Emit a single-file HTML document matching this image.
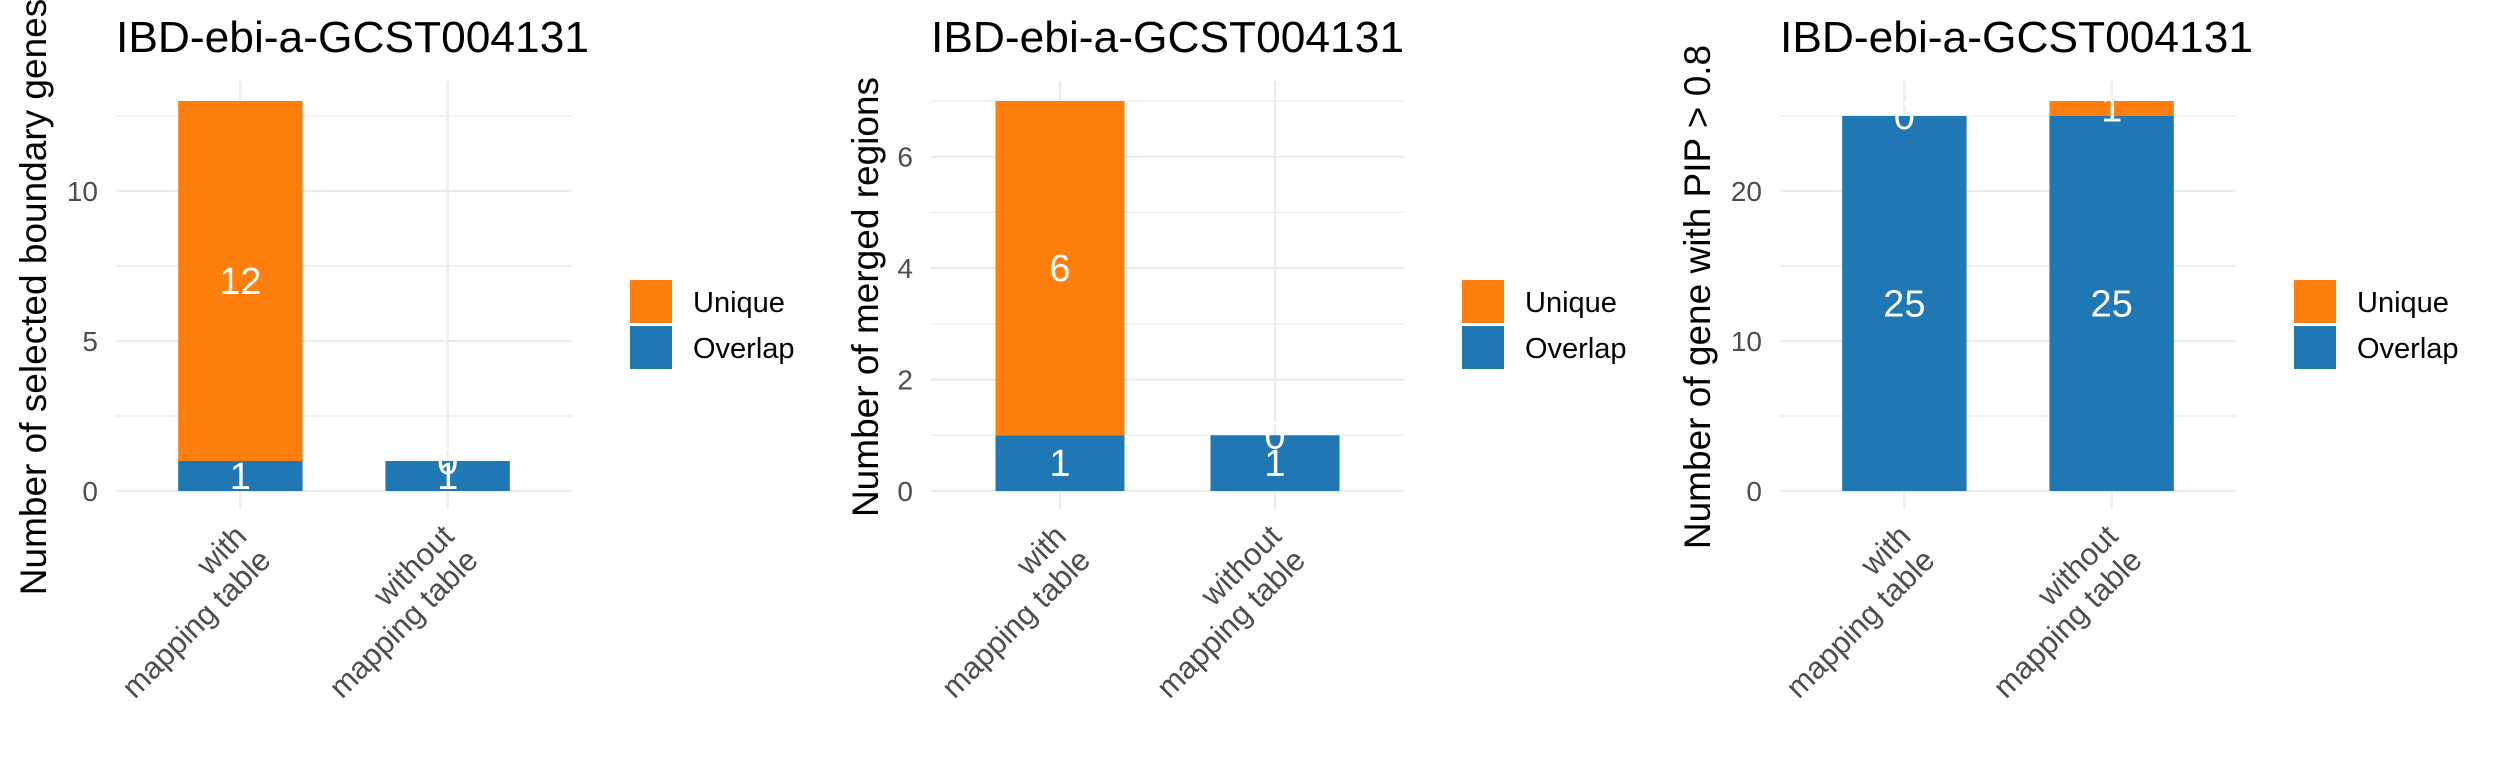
<!DOCTYPE html>
<html><head><meta charset="utf-8">
<style>
html,body{margin:0;padding:0;background:#fff;}
svg{display:block;}
text{font-family:"Liberation Sans",Arial,sans-serif;}
</style></head>
<body>
<svg id="chart" width="2496" height="768" viewBox="0 0 2496 768" xmlns="http://www.w3.org/2000/svg"></svg>
<script>
const categories = [["with","mapping table"],["without","mapping table"]];
const seriesNames = ["Overlap","Unique"];
const p1Overlap = [1, 1];
const p1Unique = [12, 0];
const p2Overlap = [1, 1];
const p2Unique = [6, 0];
const p3Overlap = [25, 25];
const p3Unique = [0, 1];
const p1Ticks = [0, 5, 10];
const p2Ticks = [0, 2, 4, 6];
const p3Ticks = [0, 10, 20];
const yTitles = ["Number of selected boundary genes","Number of merged regions","Number of gene with PIP > 0.8"];
const panelTitle = "IBD-ebi-a-GCST004131";

const NS = "http://www.w3.org/2000/svg";
const svg = document.getElementById('chart');
const COL = {Overlap:"#1f77b4", Unique:"#ff7f0e"};

function mk(tag, attrs, parent){
  const e = document.createElementNS(NS, tag);
  for (const k in attrs) e.setAttribute(k, attrs[k]);
  parent.appendChild(e);
  return e;
}

function drawPanel(idx, ox, plotLeft, overlap, unique, ticks, yTitle){
  const g = mk('g', {transform:'translate('+ox+',0)'}, svg);
  
  
  const plotRight = 572, y0 = 491, yTopData = 101, panelTop = 81, panelBottom = 509;
  const totals = overlap.map((v,i)=>v+unique[i]);
  const maxV = Math.max(...totals);
  const yScale = v => y0 - (y0 - yTopData) * v / maxV;
  const unit = (plotRight - plotLeft) / 2.2;
  const xScale = i => plotLeft + unit * (0.6 + i);
  const bw = unit * 0.6;
  const step = ticks[1]-ticks[0];
  for (let v = step/2; yScale(v) >= panelTop; v += step){
    const l = mk('line', {x1:plotLeft, x2:plotRight, y1:yScale(v), y2:yScale(v), stroke:'#ebebeb', 'stroke-width':1.2}, g);
    
    
  }
  ticks.forEach(t => {
    const l = mk('line', {x1:plotLeft, x2:plotRight, y1:yScale(t), y2:yScale(t), stroke:'#ebebeb', 'stroke-width':2.2}, g);
    
    
    const tx = mk('text', {x:plotLeft-18, y:yScale(t)+10, 'text-anchor':'end', 'font-size':28, fill:'#4d4d4d'}, g);
    tx.textContent = t;
    
    
  });
  categories.forEach((c,i) => {
    const l = mk('line', {x1:xScale(i), x2:xScale(i), y1:panelTop, y2:panelBottom, stroke:'#ebebeb', 'stroke-width':2.2}, g);
    
    
  });
  categories.forEach((c,i) => {
    const x = xScale(i) - bw/2;
    const ro = mk('rect', {x:x, y:yScale(overlap[i]), width:bw, height:y0 - yScale(overlap[i]), fill:COL.Overlap}, g);
    
    
    const ru = mk('rect', {x:x, y:yScale(totals[i]), width:bw, height:yScale(overlap[i]) - yScale(totals[i]), fill:COL.Unique}, g);
    
    
  });
  categories.forEach((c,i) => {
    const lu = mk('text', {x:xScale(i), y:yScale(overlap[i] + unique[i]/2)+13, 'text-anchor':'middle', 'font-size':38, fill:'#fff'}, g);
    lu.textContent = unique[i];
    
    
    const lo = mk('text', {x:xScale(i), y:yScale(overlap[i]/2)+13, 'text-anchor':'middle', 'font-size':38, fill:'#fff'}, g);
    lo.textContent = overlap[i];
    
    
  });
  categories.forEach((c,i) => {
    const gg = mk('g', {transform:'translate('+(xScale(i)+8)+',538) rotate(-45)'}, g);
    
    
    c.forEach((line,j) => {
      const t = mk('text', {x:0, y:j*34, 'text-anchor':'end', 'font-size':31, fill:'#4d4d4d'}, gg);
      t.textContent = line;
    });
  });
  const tt = mk('text', {x:plotLeft, y:52, 'font-size':44, fill:'#000', textLength:473, lengthAdjust:'spacingAndGlyphs'}, g);
  tt.textContent = panelTitle;
  
  
  const yt = mk('text', {x:0, y:0, transform:'translate(46,297) rotate(-90)', 'text-anchor':'middle', 'font-size':37, fill:'#000'}, g);
  yt.textContent = yTitle;
  
  
  const lg = mk('g', {}, g);
  
  
  [["Unique",280],["Overlap",326]].forEach(([n,y]) => {
    const k = mk('rect', {x:630, y:y, width:42, height:43, fill:COL[n]}, lg);
    
    
    const t = mk('text', {x:693, y:y+32, 'font-size':29, fill:'#000'}, lg);
    t.textContent = n;
    
    
  });
}

drawPanel(0, 0, 116, p1Overlap, p1Unique, p1Ticks, yTitles[0]);
drawPanel(1, 832, 99, p2Overlap, p2Unique, p2Ticks, yTitles[1]);
drawPanel(2, 1664, 116, p3Overlap, p3Unique, p3Ticks, yTitles[2]);
</script>
</body></html>
